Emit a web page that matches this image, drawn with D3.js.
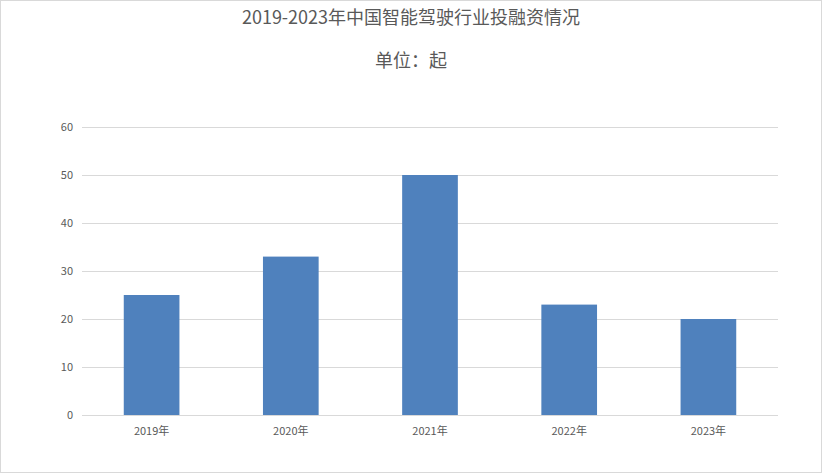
<!DOCTYPE html>
<html><head><meta charset="utf-8">
<script src="https://cdn.jsdelivr.net/npm/d3@7"></script>
<style>body{margin:0;background:#fff}</style></head>
<body><svg id="c" width="822" height="473"></svg>
<script>
const categories=["2019年","2020年","2021年","2022年","2023年"];
const values=[25,33,50,23,20];
const yTicks=[0,10,20,30,40,50,60];
const title="2019-2023年中国智能驾驶行业投融资情况";
const subtitle="单位：起";
const svg=d3.select("#c");
const font="'Noto Sans CJK SC','Liberation Sans',sans-serif";
svg.append("rect").attr("x",0.5).attr("y",0.5).attr("width",821).attr("height",472).attr("fill","#fff").attr("stroke","#d9d9d9");
const x=d3.scaleBand().domain(categories).range([82,778]).paddingInner(0.6).paddingOuter(0.3);
const y=d3.scaleLinear().domain([0,60]).range([415,127]);
svg.append("g").selectAll("line").data(yTicks).join("line")
 .attr("x1",82).attr("x2",778).attr("y1",d=>y(d)+0.5).attr("y2",d=>y(d)+0.5)
 .attr("stroke","#d9d9d9");
svg.append("g").selectAll("text").data(yTicks).join("text")
 .attr("x",73).attr("y",d=>y(d)+4).attr("text-anchor","end")
 .attr("font-size",11).attr("font-family",font).attr("fill","#595959").text(d=>d);
svg.append("g").selectAll("rect").data(values).join("rect")
 .attr("x",(d,i)=>x(categories[i])).attr("width",x.bandwidth())
 .attr("y",d=>y(d)).attr("height",d=>y(0)-y(d)).attr("fill","#4f81bd");
svg.append("g").selectAll("text").data(categories).join("text")
 .attr("x",d=>x(d)+x.bandwidth()/2).attr("y",435).attr("text-anchor","middle")
 .attr("font-size",11).attr("font-family",font).attr("fill","#595959").text(d=>d);
svg.append("text").attr("x",411).attr("y",24).attr("text-anchor","middle")
 .attr("font-size",18).attr("font-family",font).attr("fill","#595959").text(title);
svg.append("text").attr("x",411).attr("y",67).attr("text-anchor","middle")
 .attr("font-size",18).attr("font-family",font).attr("fill","#595959").text(subtitle);
</script></body></html>
